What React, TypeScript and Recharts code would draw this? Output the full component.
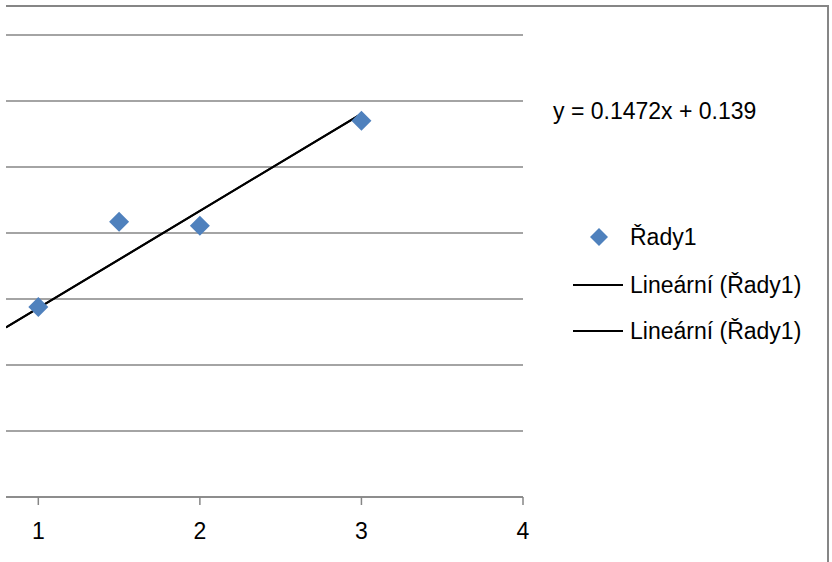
import React from 'react';
import { ComposedChart, Scatter, Line, XAxis, YAxis, CartesianGrid } from 'recharts';

// measured points (Řady1)
const xValues = [1, 1.5, 2, 3];
const yValues = [0.288, 0.417, 0.411, 0.57];

// trendline end points, y = 0.1472x + 0.139
const trendX = [0.8, 3];
const trendY = [0.2568, 0.5806];

const xTicks = [1, 2, 3, 4];
const yTicks = [0, 0.1, 0.2, 0.3, 0.4, 0.5, 0.6, 0.7];

const seriesName = 'Řady1';
const trendName = 'Lineární (Řady1)';
const equation = 'y = 0.1472x + 0.139';

const BLUE = '#4F81BD';
const GRID = '#868686';
const FONT = '"Liberation Sans", Arial, sans-serif';

const points = xValues.map((x, i) => ({ x, y: yValues[i] }));
const trend = trendX.map((x, i) => ({ x, y: trendY[i] }));

const Diamond = (props: any) => {
  const { cx, cy } = props;
  if (cx == null || cy == null) return null;
  const r = 10;
  return (
    <polygon
      points={`${cx},${cy - r} ${cx + r},${cy} ${cx},${cy + r} ${cx - r},${cy}`}
      fill={BLUE}
    />
  );
};

const LegendBox = () => (
  <svg width={260} height={150} style={{ display: 'block' }}>
    <polygon points="29,13 38,22 29,31 20,22" fill={BLUE} />
    <text x={60} y={22} dy="0.36em" fontSize={23} fontFamily={FONT} fill="#000">
      {seriesName}
    </text>
    {[0, 1].map(i => (
      <g key={i}>
        <line x1={3} x2={53} y1={70 + i * 46} y2={70 + i * 46} stroke="#000" strokeWidth={2} />
        <text x={60} y={70 + i * 46} dy="0.36em" fontSize={23} fontFamily={FONT} fill="#000">
          {trendName}
        </text>
      </g>
    ))}
  </svg>
);

export default function App() {
  return (
    <div style={{ position: 'absolute', left: 0, top: 0, width: 832, height: 562, background: '#fff' }}>
      <ComposedChart
        width={832}
        height={562}
        margin={{ top: 35, right: 309, bottom: 5, left: 6 }}
      >
        <CartesianGrid
          vertical={false}
          horizontalValues={yTicks}
          stroke={GRID}
          strokeWidth={1.5}
        />
        <XAxis
          type="number"
          dataKey="x"
          domain={[0.8, 4]}
          ticks={xTicks}
          allowDataOverflow
          height={60}
          tickSize={8}
          tickMargin={18}
          axisLine={{ stroke: GRID, strokeWidth: 1.5 }}
          tickLine={{ stroke: GRID, strokeWidth: 1.5 }}
          tick={{ fill: '#000', fontSize: 23, fontFamily: FONT }}
        />
        <YAxis
          type="number"
          dataKey="y"
          domain={[0, 0.7]}
          ticks={yTicks}
          width={0}
          axisLine={false}
          tickLine={false}
          tick={{ fill: 'transparent', fontSize: 1 }}
        />
        <Line
          data={trend}
          dataKey="y"
          name={trendName}
          stroke="#000"
          strokeWidth={2}
          dot={false}
          isAnimationActive={false}
        />
        <Line
          data={trend}
          dataKey="y"
          name={trendName}
          stroke="#000"
          strokeWidth={2}
          dot={false}
          isAnimationActive={false}
        />
        <Scatter
          data={points}
          dataKey="y"
          name={seriesName}
          fill={BLUE}
          shape={Diamond}
          isAnimationActive={false}
        />
      </ComposedChart>
      <div style={{ position: 'absolute', left: 570, top: 215 }}>
        <LegendBox />
      </div>
      <div
        style={{
          position: 'absolute',
          left: 553,
          top: 98,
          fontFamily: FONT,
          fontSize: 23,
          lineHeight: '26px',
          color: '#000',
          whiteSpace: 'nowrap',
        }}
      >
        {equation}
      </div>
      <div
        style={{
          position: 'absolute',
          left: 6,
          top: 5,
          width: 821,
          height: 557,
          borderTop: `2px solid ${GRID}`,
          borderRight: `2px solid ${GRID}`,
          pointerEvents: 'none',
        }}
      />
    </div>
  );
}
